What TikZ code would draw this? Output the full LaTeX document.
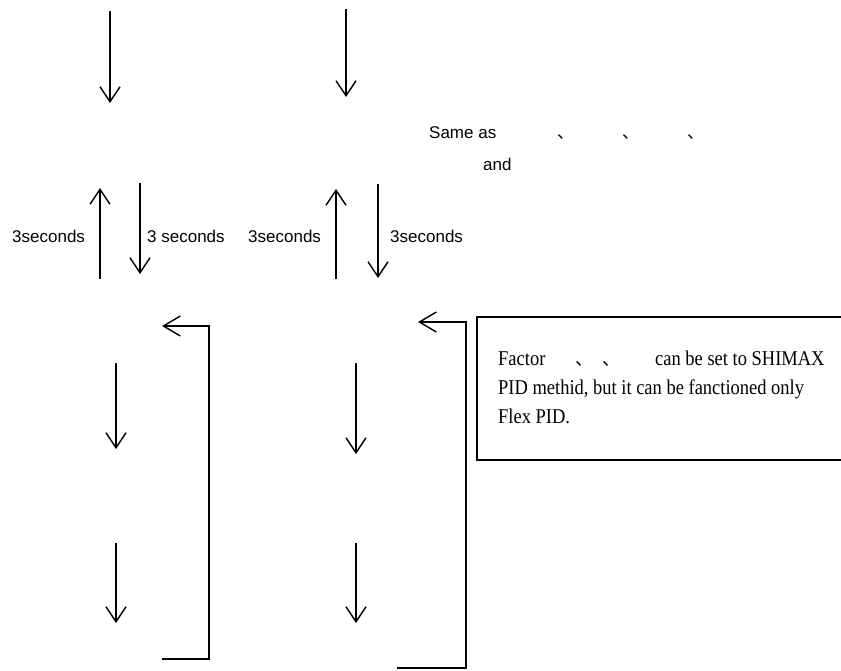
\documentclass[tikz,border=0pt]{standalone}
\usepackage{fontspec}
\setmainfont{Liberation Serif}
\setsansfont{Liberation Sans}
\newfontfamily\boxfont[FakeStretch=0.88]{Liberation Serif}
\newfontfamily\cjk{Noto Sans CJK JP}
\usetikzlibrary{arrows.meta}
\begin{document}
\begin{tikzpicture}[x=1pt,y=-1pt,
  arr/.style={line width=1.4pt,-{Straight Barb[length=15pt,width=20pt,line width=1.4pt]}},
  fb/.style={line width=1.4pt,-{Straight Barb[length=17pt,width=20pt,line width=1.4pt]}},
  lbl/.style={inner sep=0pt,anchor=base west,font=\sffamily\fontsize{17}{20}\selectfont},
  jcomma/.style={inner sep=0pt,anchor=base west,font=\cjk\fontsize{17}{20}\selectfont},
  boxtxt/.style={inner sep=0pt,anchor=base west,font=\boxfont\fontsize{21}{24}\selectfont}]
\useasboundingbox (0,0) rectangle (841,670);
% top arrows
\coordinate (t1a) at (110,11); \coordinate (t1b) at (110,103);
\coordinate (t2a) at (346,9); \coordinate (t2b) at (346,97);
\draw[arr] (t1a) -- (t1b);
\draw[arr] (t2a) -- (t2b);
% 3 seconds arrows
\coordinate (u1a) at (100,279); \coordinate (u1b) at (100,188);
\coordinate (d1a) at (140,183); \coordinate (d1b) at (140,274);
\coordinate (u2a) at (336,279); \coordinate (u2b) at (336,189);
\coordinate (d2a) at (378,184); \coordinate (d2b) at (378,278);
\draw[arr] (u1a) -- (u1b);
\draw[arr] (d1a) -- (d1b);
\draw[arr] (u2a) -- (u2b);
\draw[arr] (d2a) -- (d2b);
\node[lbl] (s1) at (12,242) {3seconds};
\node[lbl] (s2) at (147,242) {3 seconds};
\node[lbl] (s3) at (248,242) {3seconds};
\node[lbl] (s4) at (390,242) {3seconds};
% Same as
\node[lbl] (same) at (429,138) {Same as};
\node[jcomma] (c1) at (557,138) {、};
\node[jcomma] (c2) at (622,138) {、};
\node[jcomma] (c3) at (687,138) {、};
\node[lbl] (and) at (483,170) {and};
% lower down arrows
\coordinate (l1a) at (116,363); \coordinate (l1b) at (116,449);
\coordinate (l2a) at (116,543); \coordinate (l2b) at (116,623);
\coordinate (r1a) at (356,363); \coordinate (r1b) at (356,454);
\coordinate (r2a) at (356,543); \coordinate (r2b) at (356,623);
\draw[arr] (l1a) -- (l1b);
\draw[arr] (l2a) -- (l2b);
\draw[arr] (r1a) -- (r1b);
\draw[arr] (r2a) -- (r2b);
% feedback brackets
\coordinate (fl0) at (162,659); \coordinate (fl1) at (209,659);
\coordinate (fl2) at (209,326); \coordinate (fl3) at (162,326);
\draw[fb] (fl0) -- (fl1) -- (fl2) -- (fl3);
\coordinate (fr0) at (397,668); \coordinate (fr1) at (466,668);
\coordinate (fr2) at (466,322); \coordinate (fr3) at (418,322);
\draw[fb] (fr0) -- (fr1) -- (fr2) -- (fr3);
% note box
\draw[line width=1.4pt] (843,317) -- (477,317) -- (477,460) -- (843,460);
\node[boxtxt] (n1) at (498,365) {Factor};
\node[jcomma,font=\cjk\fontsize{18}{20}\selectfont] (n1c1) at (575,365) {、};
\node[jcomma,font=\cjk\fontsize{18}{20}\selectfont] (n1c2) at (602,365) {、};
\node[boxtxt] (n1b) at (655,365) {can be set to SHIMAX};
\node[boxtxt] (n2) at (498,394) {PID methid, but it can be fanctioned only};
\node[boxtxt] (n3) at (498,423) {Flex PID.};
\end{tikzpicture}
\end{document}
